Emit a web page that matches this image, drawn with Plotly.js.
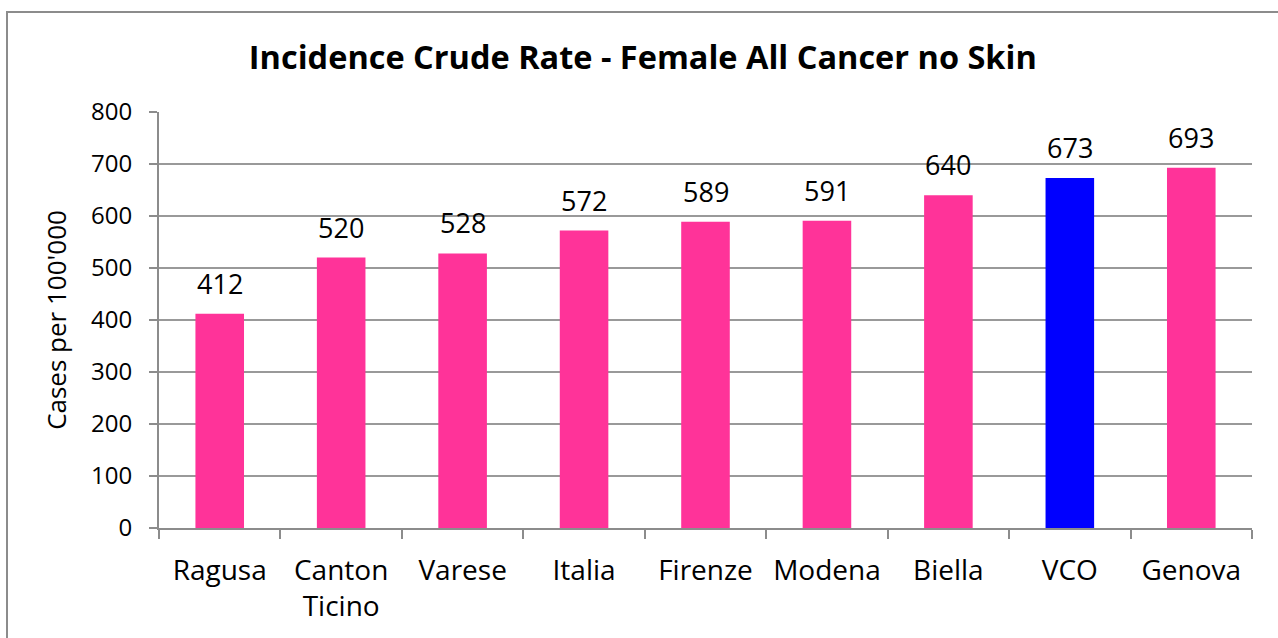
<!DOCTYPE html>
<html>
<head>
<meta charset="utf-8">
<script src="https://cdn.plot.ly/plotly-3.0.1.min.js"></script>
<style>
    html, body { margin: 0; padding: 0; background: #fff; overflow: hidden; }
    #chart { position: absolute; left: 0; top: 0; width: 1278px; height: 638px; }
    #frame { position: absolute; left: 6px; top: 11px; width: 1300px; height: 700px;
             border: 2px solid #8c8c8c; pointer-events: none; }
</style>
</head>
<body>
<div id="chart"></div>
<div id="frame"></div>
<script>
    var regions = ["Ragusa", "Canton<br>Ticino", "Varese", "Italia", "Firenze", "Modena", "Biella", "VCO", "Genova"];
    var rates = [412, 520, 528, 572, 589, 591, 640, 673, 693];
    var highlight = "VCO";

    var font = "'Open Sans', sans-serif";
    var pink = "#ff3399";
    var blue = "#0000ff";

    var colors = regions.map(function (r) {
        return r === highlight ? blue : pink;
    });

    // value labels sit above each bar
    var labels = regions.map(function (r, i) {
        return {
            x: r,
            y: rates[i],
            text: String(rates[i]),
            showarrow: false,
            yanchor: "bottom",
            yshift: 10,
            font: {family: font, size: 27, color: "#000"}
        };
    });

    var trace = {
        type: "bar",
        x: regions,
        y: rates,
        marker: {color: colors},
        hoverinfo: "x+y"
    };

    var layout = {
        width: 1278,
        height: 638,
        margin: {l: 159, r: 26, t: 112, b: 110, pad: 0},
        paper_bgcolor: "rgba(0,0,0,0)",
        plot_bgcolor: "#fff",
        showlegend: false,
        bargap: 0.6,
        font: {family: font, color: "#000"},
        title: {
            text: "<b>Incidence Crude Rate - Female All Cancer no Skin</b>",
            font: {family: font, size: 32.5, color: "#000"},
            x: 0.503,
            xanchor: "center",
            y: 0.91,
            yanchor: "middle"
        },
        xaxis: {
            type: "category",
            showline: true,
            linecolor: "#8c8c8c",
            linewidth: 2,
            ticks: "outside",
            tickson: "boundaries",
            ticklen: 9,
            tickcolor: "#8c8c8c",
            tickwidth: 2,
            ticklabelstandoff: 16,
            tickfont: {family: font, size: 28, color: "#000"},
            showgrid: false
        },
        yaxis: {
            range: [0, 800],
            dtick: 100,
            showline: true,
            linecolor: "#8c8c8c",
            linewidth: 2,
            ticks: "outside",
            ticklen: 8,
            tickcolor: "#8c8c8c",
            tickwidth: 2,
            ticklabelstandoff: 12,
            tickfont: {family: font, size: 24, color: "#000"},
            showgrid: true,
            gridcolor: "#999",
            gridwidth: 1.5,
            zeroline: false,
            title: {
                text: "Cases per 100'000",
                font: {family: font, size: 26, color: "#000"},
                standoff: 17
            }
        },
        annotations: labels
    };

    Plotly.newPlot("chart", [trace], layout, {displayModeBar: false, staticPlot: true});
</script>
</body>
</html>
